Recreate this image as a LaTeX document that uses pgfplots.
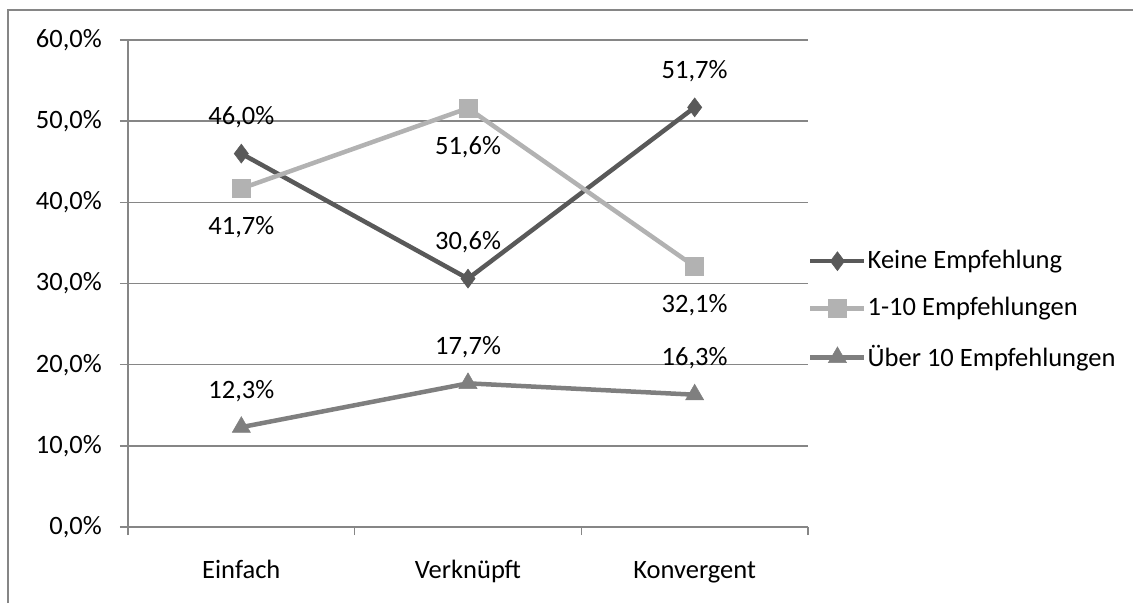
\documentclass[border=0pt]{standalone}
\usepackage{fontspec}
\setmainfont{Carlito}
\usepackage{pgfplots}
\pgfplotsset{compat=1.18}
\definecolor{gridgray}{HTML}{868686}
\definecolor{sA}{HTML}{595959}
\definecolor{sB}{HTML}{B2B2B2}
\definecolor{sC}{HTML}{7F7F7F}
\newcommand{\bigf}{\fontsize{26.5}{31}\selectfont}
\begin{document}
\bigf
\begin{tikzpicture}
\draw[gridgray, line width=1.5pt] (8pt,0pt) -- (8pt,593pt) -- (1133pt,593pt);
\begin{axis}[
  at={(128pt,76pt)}, anchor=south west,
  scale only axis, width=680pt, height=487pt,
  xmin=-0.5, xmax=2.5, ymin=0, ymax=60,
  axis x line*=bottom, axis y line*=left,
  axis line style={gridgray, line width=1.5pt},
  xtick={0,1,2}, xticklabels={Einfach, Verknüpft, Konvergent},
  minor xtick={-0.5,0.5,1.5,2.5},
  ytick={0,10,20,30,40,50,60},
  minor ytick={0.001,10.001,20.001,30.001,40.001,50.001,59.999},
  tick align=outside,
  major tick length=0pt, minor tick length=8pt,
  tick style={gridgray, line width=1.5pt},
  ymajorgrids, grid style={gridgray, line width=1.5pt},
  /pgf/number format/assume math mode=true,
  yticklabel={\pgfmathprintnumber[fixed,fixed zerofill,precision=1,use comma]{\tick}\%},
  yticklabel style={font=\bigf, anchor=east, inner sep=0pt, xshift=-26pt},
  xticklabel style={font=\bigf, anchor=base, inner sep=0pt, yshift=-51pt},
  clip=false,
  legend style={draw=none, fill=none, at={(axis description cs:1,0.4456)}, anchor=west,
    inner sep=0pt, row sep=25pt, nodes={inner sep=0pt}, font=\bigf,
    /tikz/every odd column/.append style={column sep=1pt}},
  legend cell align=left,
  legend image code/.code={\draw[mark repeat=2,mark phase=2,#1] plot coordinates {(0pt,0pt)(27pt,0pt)(54pt,0pt)};},
  nodes near coords={\pgfmathprintnumber[fixed,fixed zerofill,precision=1,use comma]{\pgfplotspointmeta}\%},
  every node near coord/.append style={text=black, inner sep=0pt, anchor=base, font=\bigf},
]
\addplot[sA, line width=4.5pt, mark=diamond*, mark size=9.5pt, mark options={solid, line width=0.5pt},
  nodes near coords style={yshift=29pt}]
  coordinates {(0,46.0) (1,30.6) (2,51.7)};
\addlegendentry{Keine Empfehlung}
\addplot[sB, line width=4.5pt, mark=square*, mark size=9pt, mark options={solid, line width=0.5pt},
  nodes near coords style={yshift=-46pt}]
  coordinates {(0,41.7) (1,51.6) (2,32.1)};
\addlegendentry{1-10 Empfehlungen}
\addplot[sC, line width=4.5pt, mark=triangle*, mark size=10.5pt, mark options={solid, line width=0.5pt},
  nodes near coords style={yshift=29pt}]
  coordinates {(0,12.3) (1,17.7) (2,16.3)};
\addlegendentry{Über 10 Empfehlungen}
\end{axis}
\pgfresetboundingbox
\useasboundingbox (0pt,0pt) rectangle (1133pt,603pt);
\end{tikzpicture}
\end{document}
